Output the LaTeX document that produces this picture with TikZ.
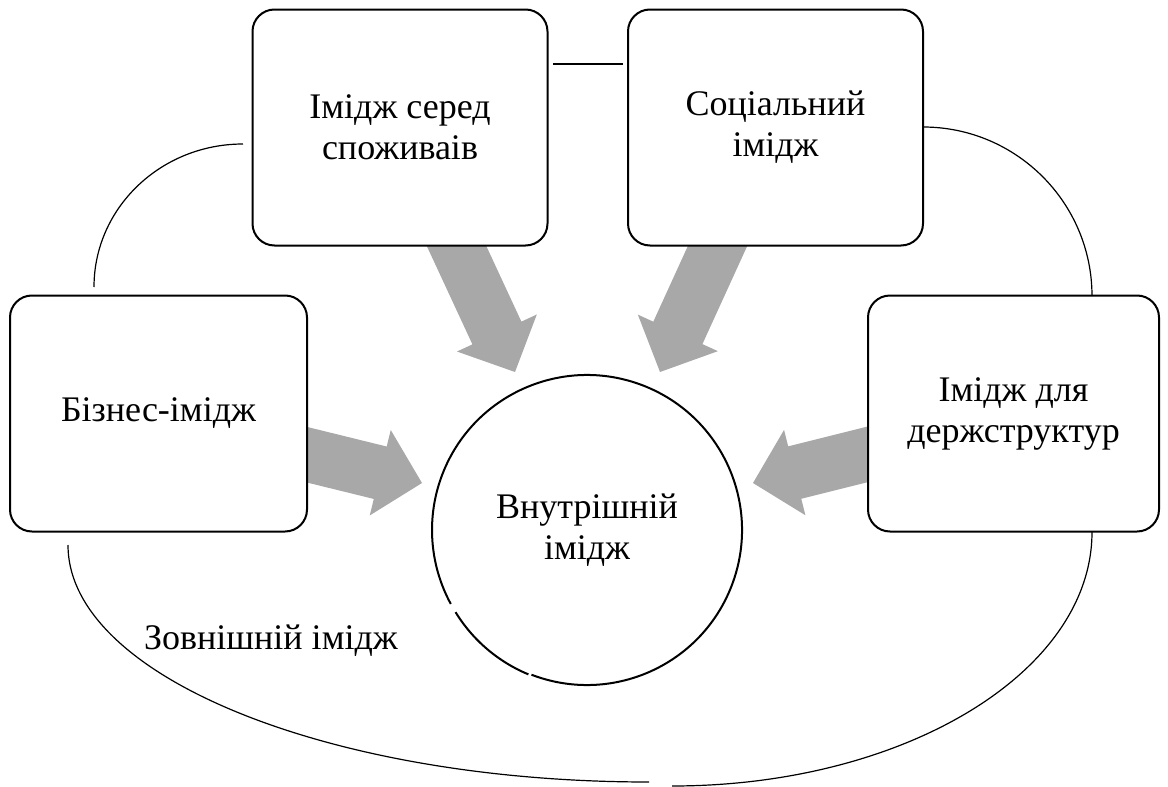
\documentclass[tikz,border=0pt]{standalone}
\usepackage{fontspec}
\setmainfont{Liberation Serif}
\usetikzlibrary{calc}
\definecolor{arrgray}{HTML}{A8A8A8}
\tikzset{
  box/.style={draw, line width=2pt, rounded corners=22pt, fill=white,
    minimum width=295pt, minimum height=236pt, align=center,
    font=\fontsize{36}{41}\selectfont, inner sep=0pt, outer sep=0pt},
  ring/.style={circle, minimum size=310pt, inner sep=0pt, outer sep=0pt,
    align=center, font=\fontsize{36}{41}\selectfont},
  ringline/.style={line width=2pt},
  link/.style={line width=1.2pt},
  lbl/.style={font=\fontsize{36}{41}\selectfont, inner sep=0pt, anchor=base west}
}
\newcommand\blockarr[2]{%
  \coordinate (#1hb) at ($(#2)!43pt!(#1)$);
  \fill[arrgray] ($(#1)!27pt!90:(#2)$) -- ($(#1hb)!27pt!90:(#2)$)
    -- ($(#1hb)!44pt!90:(#2)$) -- (#2) -- ($(#1hb)!44pt!-90:(#2)$)
    -- ($(#1hb)!27pt!-90:(#2)$) -- ($(#1)!27pt!-90:(#2)$) -- cycle;}
\begin{document}
\begin{tikzpicture}[x=1pt,y=-1pt]
\useasboundingbox (0,0) rectangle (1168,787);
% block arrows (start inside boxes, tips near the circle)
\coordinate (a1s) at (439.6,209.5); \coordinate (a1t) at (515,372);
\coordinate (a2s) at (735.4,206.9); \coordinate (a2t) at (660,372);
\coordinate (a3s) at (274,446.6);   \coordinate (a3t) at (422,483);
\coordinate (a4s) at (901,446);     \coordinate (a4t) at (753,483);
\blockarr{a1s}{a1t}
\blockarr{a2s}{a2t}
\blockarr{a3s}{a3t}
\blockarr{a4s}{a4t}
% boxes
\node[box] (b1) at (400,127.5) {Імідж серед\\споживаів};
\node[box] (b2) at (775.5,127.5) {Соціальний\\імідж};
\node[box, minimum width=297pt] (b3) at (158.5,413.5) {Бізнес-імідж};
\node[box, minimum width=291pt] (b4) at (1013.5,413.5) {Імідж для\\держструктур};
% centre circle (with two small gaps, as in the reference)
\node[ring] (c) at (587,530) {Внутрішній\\імідж};
\draw[ringline] (c.-111) arc[start angle=-111, end angle=208.5, radius=155pt];
\draw[ringline] (c.-148.5) arc[start angle=-148.5, end angle=-112.5, radius=155pt];
% connector arcs
\coordinate (t1) at (553,64);  \coordinate (t2) at (623,64);
\coordinate (l1) at (94,287);  \coordinate (l2) at (243,144);
\coordinate (r1) at (923,127); \coordinate (r2) at (1092,296);
\coordinate (d1) at (68,545);  \coordinate (d2) at (649,782);
\coordinate (e1) at (672,786); \coordinate (e2) at (1092,532);
\draw[link] (t1) -- (t2);
\draw[link] (l1) .. controls (94,208) and (160.7,144) .. (l2);
\draw[link] (r1) .. controls (1016.3,127) and (1092,202.7) .. (r2);
\draw[link] (d1) .. controls (68,675.9) and (328.1,782) .. (d2);
\draw[link] (e1) .. controls (904,786) and (1092,672.3) .. (e2);
\node[lbl] (ext) at (144,649) {Зовнішній імідж};
\end{tikzpicture}
\end{document}
